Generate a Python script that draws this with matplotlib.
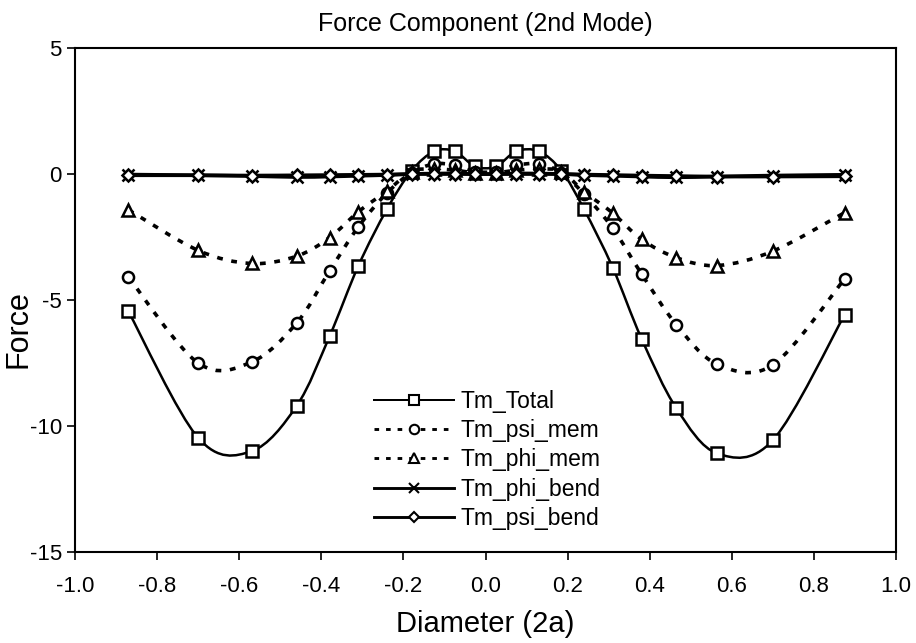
"""Force component plot, 2nd mode, with Excel-style smoothed lines."""

import matplotlib

matplotlib.use("Agg")
import matplotlib.pyplot as plt
from matplotlib.lines import Line2D
from matplotlib.patches import PathPatch
from matplotlib.path import Path

plt.rcParams["font.family"] = ["Liberation Sans", "DejaVu Sans"]
plt.rcParams["axes.unicode_minus"] = False

diameter = [-0.87, -0.70, -0.57, -0.46, -0.38, -0.31, -0.24, -0.18, -0.125, -0.075, -0.025,
            0.025, 0.075, 0.13, 0.185, 0.24, 0.31, 0.38, 0.465, 0.565, 0.70, 0.875]

tm_total = [-5.45, -10.47, -11.0, -9.2, -6.44, -3.65, -1.39, 0.13, 0.9, 0.9, 0.3,
            0.3, 0.9, 0.9, 0.13, -1.4, -3.72, -6.53, -9.3, -11.09, -10.56, -5.58]
tm_psi_mem = [-4.09, -7.5, -7.46, -5.91, -3.85, -2.1, -0.75, 0.05, 0.4, 0.35, 0.1,
              0.1, 0.35, 0.4, 0.05, -0.8, -2.15, -3.96, -5.98, -7.55, -7.57, -4.16]
tm_phi_mem = [-1.42, -3.03, -3.55, -3.26, -2.52, -1.5, -0.67, 0.1, 0.2, 0.15, 0.05,
              0.05, 0.15, 0.2, 0.1, -0.7, -1.55, -2.59, -3.32, -3.63, -3.06, -1.53]
tm_phi_bend = [-0.02, -0.05, -0.08, -0.12, -0.1, -0.07, -0.04, 0.0, 0.02, 0.02, 0.0,
               0.0, 0.02, 0.02, 0.0, -0.04, -0.07, -0.1, -0.13, -0.1, -0.06, -0.03]
tm_psi_bend = [-0.05, -0.05, -0.06, -0.05, -0.04, -0.03, -0.02, 0.0, 0.0, 0.0, 0.0,
               0.0, 0.0, 0.0, 0.0, -0.02, -0.04, -0.06, -0.08, -0.1, -0.1, -0.09]

series_names = ["Tm_Total", "Tm_psi_mem", "Tm_phi_mem", "Tm_phi_bend", "Tm_psi_bend"]
series_values = [tm_total, tm_psi_mem, tm_phi_mem, tm_phi_bend, tm_psi_bend]


def smooth_path(x, y):
    """Cubic Bezier through the points (Catmull-Rom control points, like Excel)."""
    pts = list(zip(x, y))
    n = len(pts)
    verts = [pts[0]]
    codes = [Path.MOVETO]
    for i in range(n - 1):
        p0 = pts[max(i - 1, 0)]
        p1 = pts[i]
        p2 = pts[i + 1]
        p3 = pts[min(i + 2, n - 1)]
        c1 = (p1[0] + (p2[0] - p0[0]) / 6, p1[1] + (p2[1] - p0[1]) / 6)
        c2 = (p2[0] - (p3[0] - p1[0]) / 6, p2[1] - (p3[1] - p1[1]) / 6)
        verts += [c1, c2, p2]
        codes += [Path.CURVE4] * 3
    return Path(verts, codes)


styles = [
    dict(marker="s", ls="-", lw=1.8, ms=8.5),
    dict(marker="o", ls=(0, (1.6, 2.4)), lw=2.6, ms=8),
    dict(marker="^", ls=(0, (1.6, 2.4)), lw=2.6, ms=8.5),
    dict(marker="x", ls="-", lw=2.6, ms=8),
    dict(marker="D", ls="-", lw=2.6, ms=6.5),
]

fig = plt.figure(figsize=(9.16, 6.43), dpi=100)
ax = fig.add_axes([0.0819, 0.1415, 0.8963, 0.7838])

handles = []
for name, vals, st in zip(series_names, series_values, styles):
    patch = PathPatch(smooth_path(diameter, vals), fill=False, edgecolor="black",
                      lw=st["lw"], linestyle=st["ls"], capstyle="butt", zorder=2)
    ax.add_patch(patch)
    ax.plot(diameter, vals, linestyle="none", marker=st["marker"], ms=st["ms"],
            mfc="white", mec="black", mew=1.8, zorder=3)
    handles.append(Line2D([], [], color="black", lw=st["lw"] * 0.8, linestyle=st["ls"],
                          marker=st["marker"], ms=st["ms"] * 0.85, mfc="white",
                          mec="black", mew=1.5))

ax.set_xlim(-1.0, 1.0)
ax.set_ylim(-15, 5)
ax.set_xticks([-1.0, -0.8, -0.6, -0.4, -0.2, 0.0, 0.2, 0.4, 0.6, 0.8, 1.0])
ax.set_xticklabels([f"{v:.1f}" for v in ax.get_xticks()])
ax.set_yticks([-15, -10, -5, 0, 5])
ax.tick_params(direction="out", length=5.5, width=1.2, labelsize=16)
ax.tick_params(axis="x", pad=12)
ax.tick_params(axis="y", pad=4)
for sp in ax.spines.values():
    sp.set_linewidth(1.5)

ax.set_xlabel("Diameter (2a)", fontsize=21, labelpad=9)
ax.set_ylabel("Force", fontsize=22)
ax.yaxis.set_label_coords(-0.051, 0.442)
ax.set_title("Force Component (2nd Mode)", fontsize=18, pad=12)

ax.legend(handles, series_names, loc="upper left", bbox_to_anchor=(0.408, 0.394),
          bbox_transform=fig.transFigure, frameon=False, fontsize=16.5,
          handlelength=3.5, handletextpad=0.3, labelspacing=0.28,
          borderpad=0, borderaxespad=0)

fig.savefig("out.png", dpi=100)
plt.close(fig)
